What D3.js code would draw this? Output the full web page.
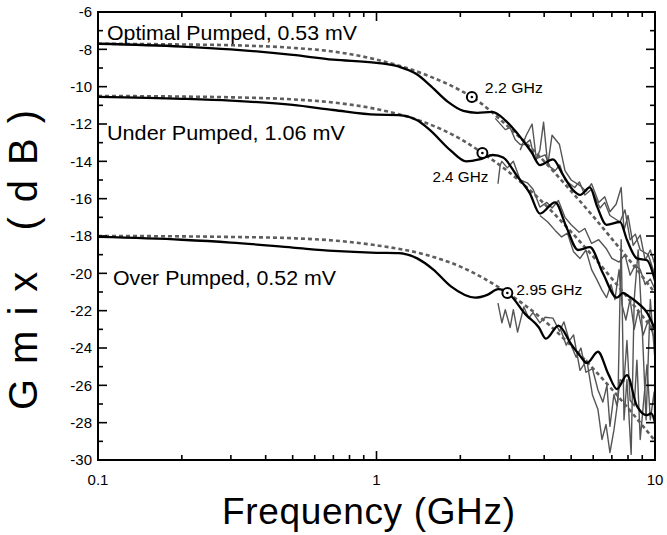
<!DOCTYPE html>
<html>
<head>
<meta charset="utf-8">
<script src="https://cdn.jsdelivr.net/npm/d3@7"></script>
<style>
  body { margin: 0; background: #fff; }
  svg { font-family: "Liberation Sans", Arial, sans-serif; }
  .title { font-family: "Liberation Sans Narrow", "Arial Narrow", "Liberation Sans", sans-serif; }
</style>
</head>
<body>
<svg id="chart" width="667" height="535"></svg>
<script>
// ---- data: [frequency GHz, Gmix dB] ----
var optDashed = [[0.1,-7.7],[0.2,-7.74],[0.3,-7.78],[0.5,-7.92],[0.7,-8.12],[1,-8.55],[1.5,-9.36],[2,-10.2],[2.2,-10.55],[3,-12.2],[4,-14.0],[5,-15.6],[6,-16.95],[7,-18.15],[8,-19.2],[10,-21.05]];
var underDashed = [[0.1,-10.5],[0.2,-10.53],[0.3,-10.57],[0.5,-10.68],[0.7,-10.85],[1,-11.2],[1.5,-11.93],[2,-12.8],[2.4,-13.55],[3,-14.6],[4,-16.27],[5,-17.78],[6,-19.1],[7,-20.28],[8,-21.33],[10,-23.14]];
var overDashed = [[0.1,-18.0],[0.2,-18.02],[0.3,-18.05],[0.5,-18.12],[0.7,-18.24],[1,-18.5],[1.5,-19.0],[2,-19.64],[2.95,-21.05],[4,-22.53],[5,-23.88],[6,-25.11],[7,-26.21],[8,-27.22],[10,-28.97]];

var optSolid = [[0.1,-7.7],[0.2,-7.85],[0.3,-8.0],[0.5,-8.3],[0.7,-8.55],[1,-8.72],[1.2,-8.92],[1.4,-9.35],[1.55,-9.9],[1.8,-10.8],[2.05,-11.3],[2.3,-11.4],[2.6,-11.35],[2.9,-11.8],[3.2,-12.5],[3.6,-13.5],[3.86,-14.2],[4.3,-13.9],[4.66,-14.7],[5.05,-15.5],[5.38,-15.8],[5.84,-15.4],[6.19,-16.4],[6.7,-17.4],[7.49,-17.25],[7.93,-18.2],[8.61,-19.2],[9.36,-19.3],[10,-20.4]];
var underSolid = [[0.1,-10.55],[0.2,-10.65],[0.3,-10.75],[0.5,-10.98],[0.7,-11.25],[1,-11.5],[1.2,-11.52],[1.4,-11.8],[1.55,-12.3],[1.84,-13.4],[2.1,-14.0],[2.34,-13.9],[2.62,-13.66],[2.85,-13.8],[3.2,-14.8],[3.55,-15.7],[3.86,-16.8],[4.38,-16.2],[4.8,-17.5],[5.29,-18.75],[5.84,-18.6],[6.5,-20.0],[7.3,-21.3],[7.68,-21.05],[8.0,-21.2],[8.85,-21.7],[9.36,-22.1],[10,-23.0]];
var overSolid = [[0.1,-18.05],[0.2,-18.2],[0.3,-18.35],[0.5,-18.62],[0.7,-18.8],[1,-18.9],[1.2,-18.92],[1.4,-19.2],[1.6,-19.8],[1.85,-20.7],[2.26,-21.3],[2.5,-21.15],[2.74,-20.85],[2.99,-21.1],[3.43,-22.2],[3.83,-22.9],[4.06,-23.5],[4.5,-22.8],[5.0,-23.8],[5.37,-24.4],[5.7,-24.8],[6.24,-24.2],[6.8,-25.4],[7.3,-26.2],[7.93,-25.45],[8.61,-27.1],[9.36,-27.6],[9.7,-27.5],[10,-28.0]];

var optMeasA = [[2.67,-11.7],[2.9,-12.3],[3.02,-12.2],[3.15,-12.85],[3.28,-13.1],[3.41,-13.1],[3.56,-12.85],[3.7,-13.9],[4.03,-13.65],[4.2,-14.3],[4.38,-14.5],[4.55,-14.2],[4.75,-15.0],[5.15,-15.4],[5.35,-15.1],[5.6,-15.8],[5.92,-15.5],[6.35,-16.5],[6.6,-16.2],[6.89,-16.9],[7.49,-17.25],[7.8,-16.6],[8.14,-18.2],[8.5,-17.9],[8.85,-18.75],[9.46,-19.0],[10,-20.1]];
var optMeasB = [[3.28,-13.4],[3.45,-12.6],[3.62,-12.0],[3.75,-13.9],[3.86,-13.4],[3.98,-11.9],[4.12,-14.2],[4.27,-12.6],[4.54,-13.1],[4.75,-14.5],[5.0,-15.0],[5.38,-15.3],[5.65,-15.6],[5.92,-15.2],[6.28,-16.2],[6.6,-15.9],[6.89,-16.7],[7.25,-16.3],[7.56,-15.4],[7.74,-17.7],[8.0,-16.9],[8.35,-18.5],[8.85,-17.95],[9.22,-19.3],[9.62,-18.75],[10,-19.55]];
var underMeasA = [[2.73,-15.2],[2.78,-14.2],[2.82,-14.0],[2.95,-14.35],[3.1,-14.0],[3.28,-15.0],[3.48,-15.15],[3.65,-15.5],[3.86,-16.45],[4.09,-16.2],[4.27,-16.5],[4.5,-16.1],[4.75,-17.0],[5.0,-17.4],[5.34,-17.8],[5.6,-17.6],[5.92,-18.4],[6.28,-18.2],[6.7,-18.7],[7.0,-19.2],[7.43,-19.4],[7.8,-19.0],[8.14,-20.1],[8.5,-19.55],[8.85,-19.8],[9.22,-20.6],[9.62,-20.3],[10,-20.85]];
var underMeasB = [[3.86,-16.9],[4.12,-17.25],[4.38,-17.7],[4.62,-18.05],[4.85,-17.85],[5.1,-18.85],[5.38,-19.2],[5.65,-18.75],[5.92,-19.8],[6.19,-20.35],[6.45,-20.9],[6.7,-21.3],[6.95,-20.6],[7.18,-21.4],[7.43,-19.8],[7.62,-21.7],[7.86,-22.5],[8.14,-21.4],[8.42,-23.0],[8.7,-22.0],[9.07,-23.3],[9.46,-22.5],[10,-23.6]];
var overMeasA = [[2.73,-21.6],[2.82,-22.65],[2.9,-21.95],[3.02,-22.9],[3.1,-21.95],[3.21,-23.15],[3.38,-21.8],[3.52,-22.4],[3.65,-22.1],[3.86,-22.65],[4.03,-22.35],[4.3,-22.4],[4.54,-23.1],[4.71,-22.6],[4.92,-23.6],[5.21,-24.5],[5.42,-24.0],[5.65,-25.3],[5.96,-25.1],[6.24,-26.25],[6.5,-26.9],[6.72,-26.0],[6.89,-28.2],[7.12,-26.5],[7.3,-27.1],[7.49,-25.7],[7.74,-25.8],[7.93,-23.6],[8.14,-26.8],[8.42,-27.1],[8.61,-24.65],[8.85,-28.9],[9.15,-26.5],[9.36,-24.9],[9.62,-27.85],[9.93,-26.35],[10,-28.4]];
var overMeasB = [[4.58,-23.0],[4.8,-23.85],[5.1,-23.3],[5.38,-25.2],[5.69,-24.65],[5.96,-26.5],[6.24,-27.3],[6.45,-28.9],[6.67,-28.1],[6.89,-29.6],[7.12,-28.4],[7.36,-26.8],[7.56,-18.2],[7.74,-27.85],[7.93,-25.7],[8.21,-29.7],[8.42,-21.4],[8.7,-18.75],[9.0,-23.0],[9.29,-27.85],[9.62,-21.4],[10,-24.65]];

// corner markers: [freq, dB, label]
var corners = [[2.2,-10.55,"2.2 GHz"],[2.4,-13.55,"2.4 GHz"],[2.95,-21.05,"2.95 GHz"]];
// curve names: [text, freq, dB]
var curveLabels = [["Optimal Pumped, 0.53 mV",0.1077,-7.5],["Under Pumped, 1.06 mV",0.1077,-12.86],["Over Pumped, 0.52 mV",0.1132,-20.62]];
var xTicks = [0.1, 1, 10];
var yTicks = [-30,-28,-26,-24,-22,-20,-18,-16,-14,-12,-10,-8,-6];

// ---- layout ----
const margin = {top: 12, right: 12, bottom: 75, left: 98},
  width = 667 - margin.left - margin.right,
  height = 535 - margin.top - margin.bottom;

const svg = d3.select("#chart");
const g = svg.append("g").attr("transform", `translate(${margin.left},${margin.top})`);

const x = d3.scaleLog().domain([0.1, 10]).range([0, width]);
const y = d3.scaleLinear().domain([-30, -6]).range([height, 0]);

g.append("clipPath").attr("id", "clip")
  .append("rect").attr("width", width).attr("height", height);

/** measured (noisy grey) traces */
const rough = d3.line().x(d => x(d[0])).y(d => y(d[1]));
g.append("g").attr("clip-path", "url(#clip)")
  .selectAll(".meas")
  .data([optMeasA, optMeasB, underMeasA, underMeasB, overMeasA, overMeasB])
  .join("path")
  .attr("class", "meas")
  .attr("fill", "none")
  .attr("stroke", "#555")
  .attr("stroke-width", 1.4)
  .attr("stroke-linejoin", "round")
  .attr("d", rough);

/** model (dashed) and simulation (solid) curves */
const smooth = d3.line().curve(d3.curveMonotoneX).x(d => x(d[0])).y(d => y(d[1]));
g.append("g").attr("clip-path", "url(#clip)")
  .selectAll(".model")
  .data([optDashed, underDashed, overDashed])
  .join("path")
  .attr("class", "model")
  .attr("fill", "none")
  .attr("stroke", "#5e5e5e")
  .attr("stroke-width", 2.6)
  .attr("stroke-dasharray", "4,3")
  .attr("d", smooth);

g.append("g").attr("clip-path", "url(#clip)")
  .selectAll(".sim")
  .data([optSolid, underSolid, overSolid])
  .join("path")
  .attr("class", "sim")
  .attr("fill", "none")
  .attr("stroke", "#000")
  .attr("stroke-width", 2.3)
  .attr("d", smooth);

/** 3 dB corner markers */
const mk = g.selectAll(".corner").data(corners).join("g")
  .attr("class", "corner")
  .attr("transform", d => `translate(${x(d[0])},${y(d[1])})`);
mk.append("circle").attr("r", 5).attr("fill", "#fff").attr("stroke", "#000").attr("stroke-width", 2);
mk.append("circle").attr("r", 1.3).attr("fill", "#000");
const cornerOffsets = [[13, -4, 58], [-50, 29, 56], [9, 2, 66]];
mk.append("text")
  .attr("x", (d, i) => cornerOffsets[i][0])
  .attr("y", (d, i) => cornerOffsets[i][1])
  .attr("font-size", 14)
  .attr("textLength", (d, i) => cornerOffsets[i][2])
  .attr("lengthAdjust", "spacingAndGlyphs")
  .text(d => d[2]);

const labelLens = [250, 238, 223];
g.selectAll(".clabel").data(curveLabels).join("text")
  .attr("class", "clabel")
  .attr("x", d => x(d[1]))
  .attr("y", d => y(d[2]))
  .attr("font-size", 20)
  .attr("textLength", (d, i) => labelLens[i])
  .attr("lengthAdjust", "spacingAndGlyphs")
  .text(d => d[0]);

/** frame */
g.append("rect").attr("width", width).attr("height", height)
  .attr("fill", "none").attr("stroke", "#000").attr("stroke-width", 2);

/** ticks on all 4 sides, pointing inward */
const minorX = [];
[0.1, 1].forEach(dec => { for (let k = 2; k <= 9; k++) minorX.push(dec * k); });
const yMinor = d3.range(-29, -6, 2);

function xTicksAt(ypos, dir) {
  g.selectAll(null).data(xTicks).join("line")
    .attr("x1", d => x(d)).attr("x2", d => x(d))
    .attr("y1", ypos).attr("y2", ypos + dir * 9)
    .attr("stroke", "#000").attr("stroke-width", 1.6);
  g.selectAll(null).data(minorX).join("line")
    .attr("x1", d => x(d)).attr("x2", d => x(d))
    .attr("y1", ypos).attr("y2", ypos + dir * 5)
    .attr("stroke", "#000").attr("stroke-width", 1.6);
}
function yTicksAt(xpos, dir) {
  g.selectAll(null).data(yTicks).join("line")
    .attr("y1", d => y(d)).attr("y2", d => y(d))
    .attr("x1", xpos).attr("x2", xpos + dir * 9)
    .attr("stroke", "#000").attr("stroke-width", 1.6);
  g.selectAll(null).data(yMinor).join("line")
    .attr("y1", d => y(d)).attr("y2", d => y(d))
    .attr("x1", xpos).attr("x2", xpos + dir * 5)
    .attr("stroke", "#000").attr("stroke-width", 1.6);
}
xTicksAt(height, -1);
xTicksAt(0, 1);
yTicksAt(0, 1);
yTicksAt(width, -1);

g.selectAll(".xlab").data(xTicks).join("text")
  .attr("class", "xlab")
  .attr("x", d => x(d)).attr("y", height + 25)
  .attr("text-anchor", "middle").attr("font-size", 15)
  .text(d => d3.format("~g")(d));

g.selectAll(".ylab").data(yTicks).join("text")
  .attr("class", "ylab")
  .attr("x", -6).attr("y", d => y(d)).attr("dy", "0.35em")
  .attr("text-anchor", "end").attr("font-size", 15)
  .text(d => d);

/** axis titles */
svg.append("text")
  .attr("class", "title")
  .attr("x", 222).attr("y", 524)
  .attr("font-size", 37)
  .attr("textLength", 293)
  .attr("lengthAdjust", "spacing")
  .text("Frequency (GHz)");
svg.append("text")
  .attr("class", "title")
  .attr("transform", "translate(37,410) rotate(-90)")
  .attr("font-size", 40)
  .attr("textLength", 300)
  .attr("lengthAdjust", "spacing")
  .text("Gmix (dB)");
</script>
</body>
</html>
